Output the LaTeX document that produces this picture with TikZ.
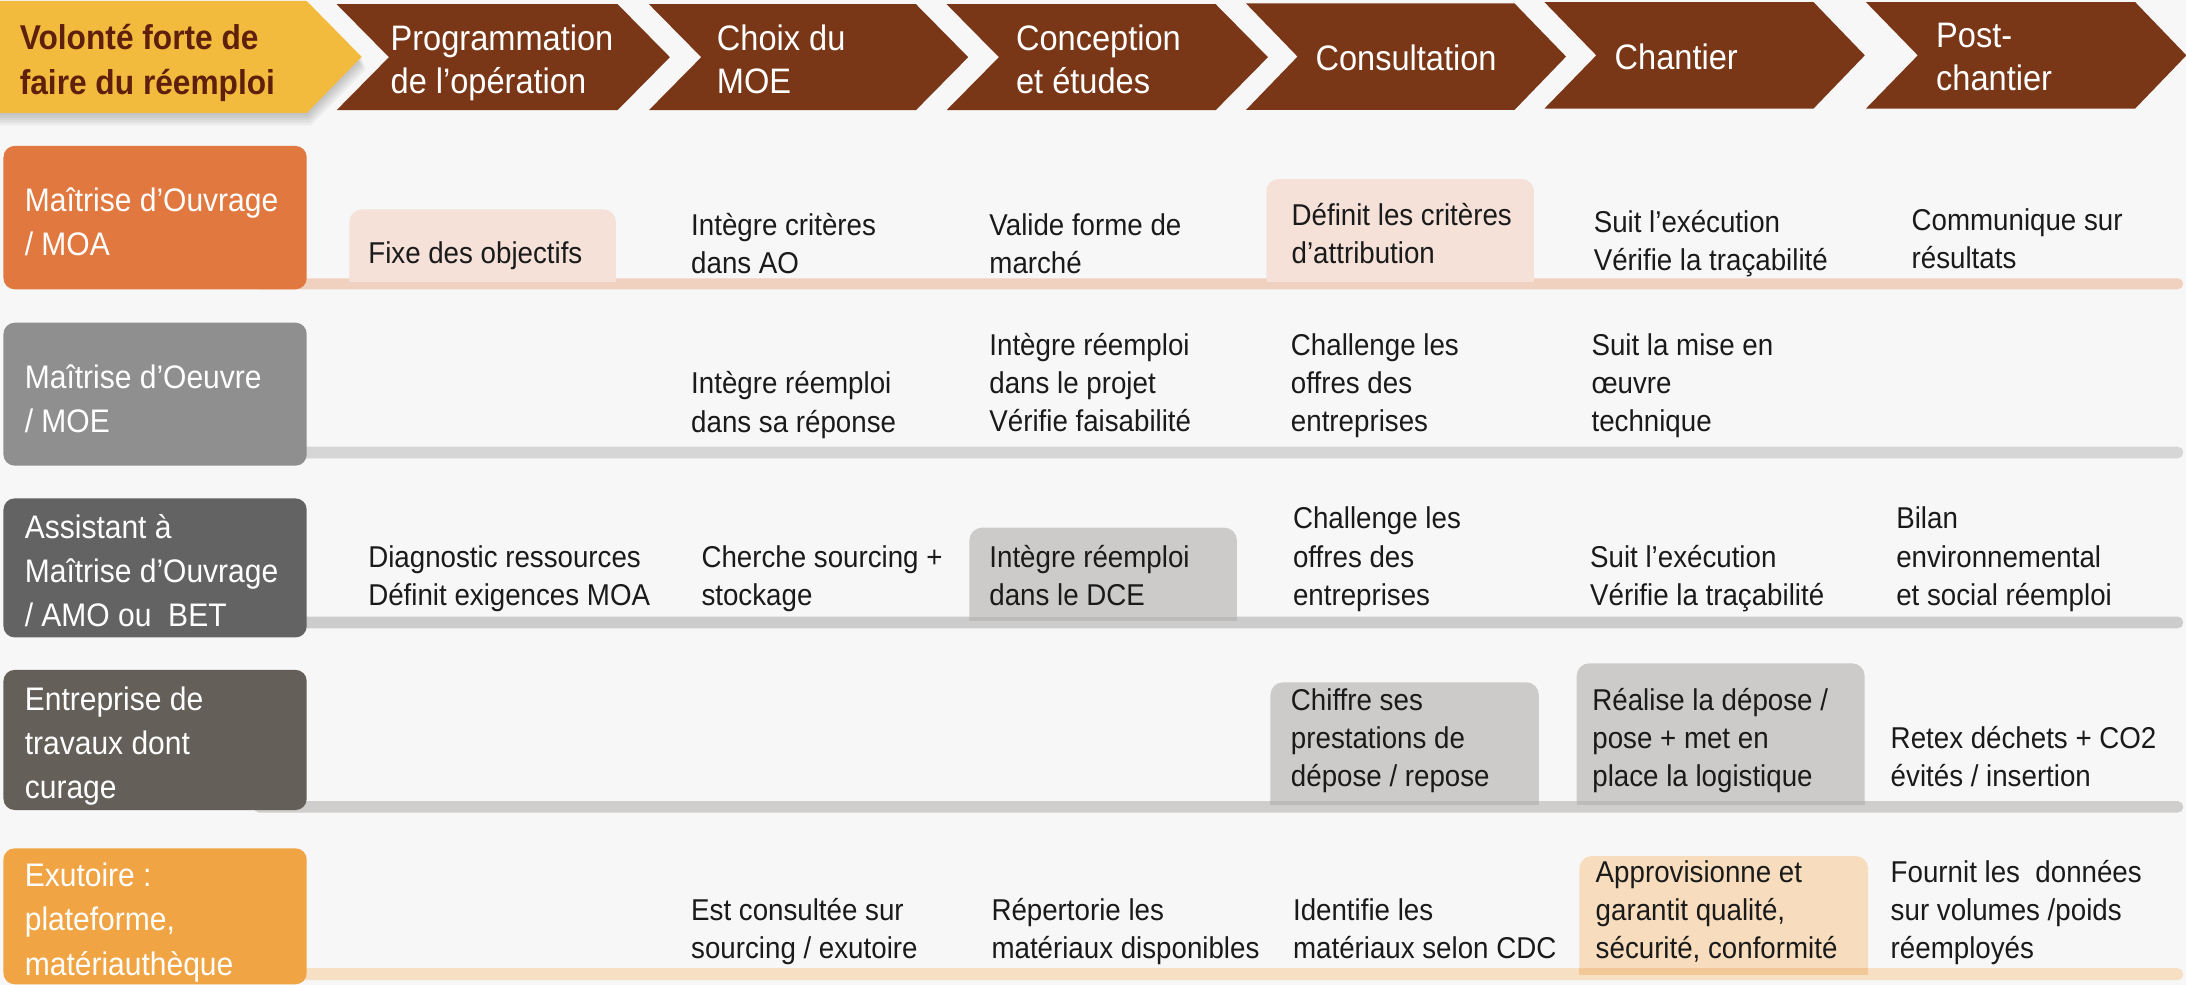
\documentclass[tikz,border=0pt]{standalone}
\usepackage{fontspec}
\setmainfont[FakeStretch=0.92]{Liberation Sans}
\definecolor{bgc}{HTML}{F7F7F7}
\definecolor{yel}{HTML}{F3BB3E}
\definecolor{yeltext}{HTML}{5E1F0B}
\definecolor{brown}{HTML}{793717}
\definecolor{moac}{HTML}{E07840}
\definecolor{moec}{HTML}{8F8F8F}
\definecolor{amoc}{HTML}{636363}
\definecolor{entc}{HTML}{645F58}
\definecolor{exuc}{HTML}{F0A443}
\definecolor{pinkbox}{HTML}{F5E1D8}
\definecolor{pinkbar}{HTML}{F0D0BE}
\definecolor{greybox}{HTML}{CCCBCA}
\definecolor{greybarA}{HTML}{D6D6D6}
\definecolor{greybarB}{HTML}{CCCCCC}
\definecolor{greybarC}{HTML}{CFCECC}
\definecolor{greystrip}{HTML}{BCBBB9}
\definecolor{peachbox}{HTML}{F7DDBD}
\definecolor{peachbar}{HTML}{F7DFC3}
\definecolor{peachstrip}{HTML}{F2C898}
\definecolor{bodytext}{HTML}{1A1A1A}
\newcommand{\hlbox}[5]{%
  \begin{scope}
    \clip (#2-1,#3-1) rectangle (#4+1,#5);
    \fill[#1, rounded corners=9pt] (#2,#3) rectangle (#4,#5+20);
  \end{scope}}
\begin{document}
\begin{tikzpicture}[x=1pt,y=-1pt,
  body/.style={anchor=base west, inner sep=0pt, align=left, text=bodytext,
    font=\fontsize{21.6}{27.4}\selectfont},
  hdr/.style={anchor=base west, inner sep=0pt, align=left, text=white,
    font=\fontsize{25.4}{31}\selectfont},
  lbl/.style={anchor=base west, inner sep=0pt, align=left, text=white,
    font=\fontsize{23.4}{31.7}\selectfont},
  yeltxt/.style={anchor=base west, inner sep=0pt, align=left, text=yeltext,
    font=\fontsize{24.7}{32.3}\selectfont\bfseries},
  chev/.style={fill=brown},
  rowbox/.style={rounded corners=8pt},
  rowbar/.style={rounded corners=4pt}]
\useasboundingbox (0,0) rectangle (1568,706.5);
\fill[bgc] (0,0) rectangle (1568,706.5);

% ---------- header ----------
\foreach \i in {1,...,5}{
  \fill[black, opacity=0.045] (0,0.7+1.8*\i) -- (220+0.6*\i,0.7+1.8*\i) -- (259.4+0.6*\i,40.8+1.8*\i) -- (220+0.6*\i,81+1.8*\i) -- (0,81+1.8*\i) -- cycle;
}
\fill[yel] (0,0.7) -- (220,0.7) -- (259.4,40.8) -- (220,81) -- (0,81) -- cycle;

\fill[chev] (241.5,3) -- (443,3) -- (480.5,41) -- (443,79) -- (241.5,79) -- (279,41) -- cycle;
\fill[chev] (465.5,3) -- (657,3) -- (694.5,41) -- (657,79) -- (465.5,79) -- (503,41) -- cycle;
\fill[chev] (679,3) -- (872,3) -- (909.5,41) -- (872,79) -- (679,79) -- (716.5,41) -- cycle;
\fill[chev] (893.7,2.4) -- (1086.3,2.4) -- (1123.3,40.6) -- (1086.3,78.9) -- (893.7,78.9) -- (930.7,40.6) -- cycle;
\fill[chev] (1107.8,1.5) -- (1300.8,1.5) -- (1337.6,39.7) -- (1300.8,77.9) -- (1107.8,77.9) -- (1145,39.7) -- cycle;
\fill[chev] (1338.4,1.5) -- (1531.5,1.5) -- (1568.3,39.7) -- (1531.5,77.9) -- (1338.4,77.9) -- (1375.6,39.7) -- cycle;

% multi-line nodes: base = baseline of the last line
\node[yeltxt] (hy) at (14,67.6) {Volonté forte de\\faire du réemploi};
\node[hdr] (h1) at (280,67) {Programmation\\de l’opération};
\node[hdr] (h2) at (514,67) {Choix du\\MOE};
\node[hdr] (h3) at (728.6,67) {Conception\\et études};
\node[hdr] (h4) at (943.4,50.8) {Consultation};
\node[hdr] (h5) at (1158,49.6) {Chantier};
\node[hdr] (h6) at (1388.6,65) {Post-\\chantier};

% ---------- bars ----------
\fill[pinkbar, rowbar] (182,199.6) rectangle (1566,207.5);
\fill[greybarA, rowbar] (182,320.4) rectangle (1566,328.8);
\fill[greybarB, rowbar] (182,442.3) rectangle (1566,450.7);
\fill[greybarC, rowbar] (182,574.6) rectangle (1566,582.9);
\fill[peachbar, rowbar] (182,694.5) rectangle (1566,703);

% ---------- highlight boxes ----------
\hlbox{pinkbox}{250.6}{150.2}{441.8}{201.6}
\hlbox{pinkbox}{908.3}{128.4}{1100.3}{201.6}
\hlbox{greybox}{695.4}{378.5}{887.2}{445.3}
\fill[greystrip] (695.4,442.3) rectangle (887.2,445.3);
\hlbox{greybox}{911.3}{489.4}{1103.8}{577.2}
\fill[greystrip] (911.3,574.6) rectangle (1103.8,577.2);
\hlbox{greybox}{1130.9}{475.8}{1337.5}{577.2}
\fill[greystrip] (1130.9,574.6) rectangle (1337.5,577.2);
\hlbox{peachbox}{1132.9}{614}{1340}{699.3}
\fill[peachstrip] (1132.9,694.5) rectangle (1340,699.3);

% ---------- row labels ----------
\fill[moac, rowbox] (2.5,104.7) rectangle (220,207.5);
\fill[moec, rowbox] (2.5,231.5) rectangle (220,334);
\fill[amoc, rowbox] (2.5,357.5) rectangle (220,457.2);
\fill[entc, rowbox] (2.5,480.5) rectangle (220,581);
\fill[exuc, rowbox] (2.5,608.5) rectangle (220,706);

\node[lbl] (l1) at (17.6,183.6) {Maîtrise d’Ouvrage\\/ MOA};
\node[lbl] (l2) at (17.6,310.1) {Maîtrise d’Oeuvre\\/ MOE};
\node[lbl] (l3) at (17.6,449.6) {Assistant à\\Maîtrise d’Ouvrage\\/ AMO ou\ \ BET};
\node[lbl] (l4) at (17.6,572.7) {Entreprise de\\travaux dont\\curage};
\node[lbl] (l5) at (17.6,699.4) {Exutoire :\\plateforme,\\matériauthèque};

% ---------- row 1 ----------
\node[body] (a1) at (264,189.2) {Fixe des objectifs};
\node[body] (a2) at (495.6,196.3) {Intègre critères\\dans AO};
\node[body] (a3) at (709.5,196.3) {Valide forme de\\marché};
\node[body] (a4) at (926.3,189.1) {Définit les critères\\d’attribution};
\node[body] (a5) at (1143,193.9) {Suit l’exécution\\Vérifie la traçabilité};
\node[body] (a6) at (1371,192.7) {Communique sur\\résultats};

% ---------- row 2 ----------
\node[body] (b2) at (495.6,309.9) {Intègre réemploi\\dans sa réponse};
\node[body] (b3) at (709.5,309.8) {Intègre réemploi\\dans le projet\\Vérifie faisabilité};
\node[body] (b4) at (925.8,309.8) {Challenge les\\offres des\\entreprises};
\node[body] (b5) at (1141.4,309.8) {Suit la mise en\\œuvre\\technique};

% ---------- row 3 ----------
\node[body] (c1) at (264,434.2) {Diagnostic ressources\\Définit exigences MOA};
\node[body] (c2) at (503,434.2) {Cherche sourcing +\\stockage};
\node[body] (c3) at (709.5,434.2) {Intègre réemploi\\dans le DCE};
\node[body] (c4) at (927.3,434.2) {Challenge les\\offres des\\entreprises};
\node[body] (c5) at (1140.4,434.2) {Suit l’exécution\\Vérifie la traçabilité};
\node[body] (c6) at (1360,434.2) {Bilan\\environnemental\\et social réemploi};

% ---------- row 4 ----------
\node[body] (d4) at (925.8,564.3) {Chiffre ses\\prestations de\\dépose / repose};
\node[body] (d5) at (1142,564.2) {Réalise la dépose /\\pose + met en\\place la logistique};
\node[body] (d6) at (1356,564.4) {Retex déchets + CO2\\évités / insertion};

% ---------- row 5 ----------
\node[body] (e2) at (495.6,687.6) {Est consultée sur\\sourcing / exutoire};
\node[body] (e3) at (711,687.6) {Répertorie les\\matériaux disponibles};
\node[body] (e4) at (927.3,687.6) {Identifie les\\matériaux selon CDC};
\node[body] (e5) at (1144.4,687.5) {Approvisionne et\\garantit qualité,\\sécurité, conformité};
\node[body] (e6) at (1356,687.5) {Fournit les\ \ données\\sur volumes /poids\\réemployés};
\end{tikzpicture}
\end{document}
